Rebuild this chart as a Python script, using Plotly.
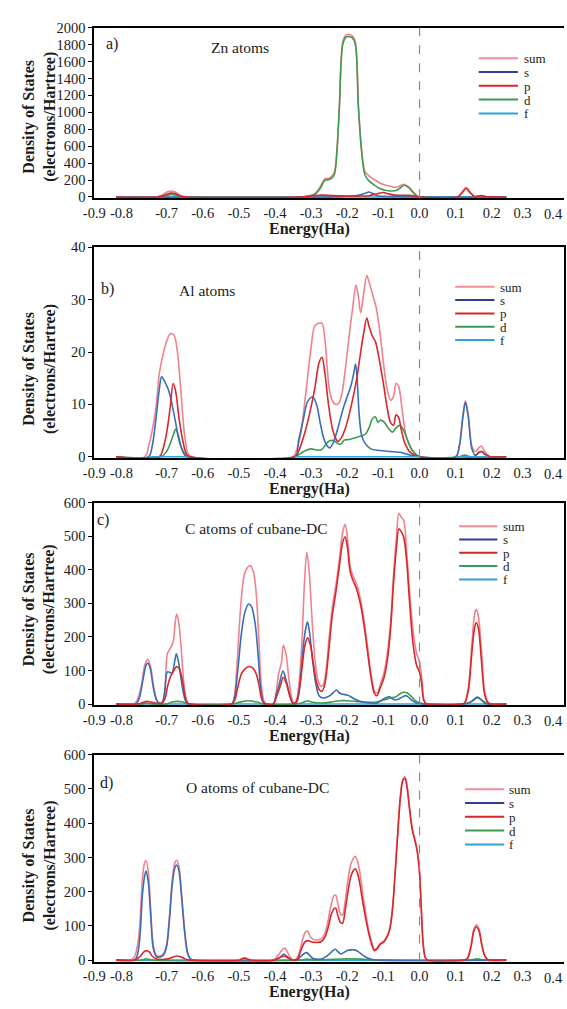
import plotly.graph_objects as go

W, H = 567, 1009

# ---------------- energy axis ----------------
x_tick_vals = [-0.9, -0.8, -0.7, -0.6, -0.5, -0.4, -0.3, -0.2, -0.1, 0.0, 0.1, 0.2, 0.3]
x_tick_text = ["-0.9", "-0.8", "-0.7", "-0.6", "-0.5", "-0.4", "-0.3", "-0.2", "-0.1",
               "0.0", "0.1", "0.2", "0.3"]
# the last label sits at the frame edge, so it is right-aligned to its tick
x_edge_val = 0.4
x_edge_text = "0.4"
# trailing no-break spaces nudge crowded labels inward
x_tick_pad = {"-0.8": 5, "0.3": 3}
FERMI = 0.0

# ---------------- y ticks ----------------
a_yticks = [0, 200, 400, 600, 800, 1000, 1200, 1400, 1600, 1800, 2000]
b_yticks = [0, 10, 20, 30, 40]
c_yticks = [0, 100, 200, 300, 400, 500, 600]
d_yticks = [0, 100, 200, 300, 400, 500, 600]

# ---------------- a) Zn atoms : (energy, DOS) ----------------
a_sum = [(-0.84, 0), (-0.73, 0), (-0.713, 20), (-0.7, 55), (-0.688, 70), (-0.675, 55), (-0.66, 12), (-0.645, 0),
         (-0.33, 0), (-0.31, 10), (-0.29, 40), (-0.275, 120), (-0.262, 215), (-0.25, 225), (-0.242, 250),
         (-0.235, 300), (-0.228, 600), (-0.222, 1070), (-0.212, 1840), (-0.203, 1915), (-0.195, 1920),
         (-0.186, 1905), (-0.178, 1840), (-0.169, 1070), (-0.16, 550), (-0.151, 300), (-0.14, 250),
         (-0.125, 205), (-0.11, 165), (-0.095, 140), (-0.08, 125), (-0.065, 115), (-0.052, 135),
         (-0.042, 148), (-0.03, 120), (-0.018, 60), (-0.008, 15), (0.0, 0),
         (0.105, 0), (0.118, 60), (0.129, 115), (0.14, 60), (0.152, 8), (0.162, 10), (0.172, 17),
         (0.185, 3), (0.2, 0), (0.24, 0)]
a_s = [(-0.84, 0), (-0.25, 0), (-0.2, 8), (-0.17, 20), (-0.15, 45), (-0.14, 58), (-0.13, 40), (-0.115, 12),
       (-0.09, 6), (-0.06, 3), (0.0, 0), (0.24, 0)]
a_p = [(-0.84, 0), (-0.725, 0), (-0.705, 20), (-0.69, 45), (-0.675, 38), (-0.66, 8), (-0.645, 0),
       (-0.33, 0), (-0.3, 12), (-0.27, 22), (-0.24, 15), (-0.2, 10), (-0.17, 10), (-0.14, 15), (-0.12, 35),
       (-0.1, 52), (-0.085, 35), (-0.07, 22), (-0.05, 20), (-0.03, 18), (-0.01, 8), (0.0, 0),
       (0.105, 0), (0.118, 50), (0.129, 100), (0.14, 50), (0.152, 5), (0.162, 10), (0.172, 15),
       (0.185, 3), (0.2, 0), (0.24, 0)]
a_d = [(-0.84, 0), (-0.715, 0), (-0.7, 18), (-0.687, 30), (-0.675, 20), (-0.66, 3), (-0.645, 0),
       (-0.33, 0), (-0.31, 5), (-0.29, 30), (-0.275, 100), (-0.262, 195), (-0.25, 205), (-0.242, 225),
       (-0.235, 275), (-0.228, 570), (-0.222, 1040), (-0.212, 1810), (-0.203, 1890), (-0.195, 1895),
       (-0.186, 1880), (-0.178, 1810), (-0.169, 1040), (-0.16, 520), (-0.151, 260), (-0.14, 190),
       (-0.125, 140), (-0.11, 100), (-0.095, 80), (-0.08, 70), (-0.065, 75), (-0.052, 112), (-0.042, 138),
       (-0.03, 110), (-0.018, 55), (-0.008, 12), (0.0, 0), (0.24, 0)]
a_f = [(-0.84, 0), (0.24, 0)]

# ---------------- b) Al atoms ----------------
b_sum = [(-0.84, 0), (-0.76, 0), (-0.75, 2), (-0.74, 5), (-0.73, 9), (-0.72, 16), (-0.71, 19.5), (-0.70, 22),
         (-0.69, 23.5), (-0.68, 23.3), (-0.67, 20), (-0.66, 12), (-0.65, 4), (-0.64, 0.5), (-0.63, 0),
         (-0.35, 0), (-0.342, 1), (-0.33, 4), (-0.315, 12), (-0.30, 21), (-0.29, 25), (-0.28, 25.5),
         (-0.27, 25.5), (-0.26, 21), (-0.25, 13), (-0.24, 10.5), (-0.232, 10), (-0.224, 10.2), (-0.215, 12),
         (-0.205, 17), (-0.195, 23), (-0.185, 28.5), (-0.176, 32.8), (-0.17, 31), (-0.163, 27.5),
         (-0.155, 31), (-0.146, 34.6), (-0.14, 33.5), (-0.13, 31), (-0.12, 28.5), (-0.11, 24), (-0.10, 18),
         (-0.09, 13), (-0.08, 10.8), (-0.072, 11.5), (-0.065, 14), (-0.058, 13.5), (-0.05, 10), (-0.04, 5),
         (-0.03, 2.5), (-0.015, 0.8), (0.0, 0),
         (0.1, 0), (0.11, 2), (0.12, 8), (0.127, 10.7), (0.135, 8), (0.145, 2), (0.155, 1), (0.165, 1.8),
         (0.172, 2), (0.18, 1), (0.195, 0), (0.24, 0)]
b_s = [(-0.84, 0), (-0.75, 0), (-0.74, 2), (-0.73, 7), (-0.72, 13), (-0.714, 15.3), (-0.705, 14.3),
       (-0.695, 12.8), (-0.685, 10), (-0.675, 6.5), (-0.665, 3), (-0.655, 1), (-0.645, 0),
       (-0.345, 0), (-0.335, 3), (-0.322, 7), (-0.31, 10.5), (-0.296, 11.4), (-0.285, 10), (-0.275, 6.5),
       (-0.265, 3.5), (-0.255, 2), (-0.248, 1.7), (-0.24, 2.5), (-0.23, 4.5), (-0.22, 7), (-0.21, 9.5),
       (-0.2, 11.5), (-0.19, 13.5), (-0.182, 16), (-0.177, 17.7), (-0.172, 14), (-0.167, 8), (-0.16, 4),
       (-0.15, 2.5), (-0.135, 1.5), (-0.11, 1.2), (-0.08, 1.0), (-0.05, 0.8), (-0.03, 0.4), (0.0, 0),
       (0.1, 0), (0.11, 2), (0.12, 7.5), (0.127, 10.4), (0.135, 7.5), (0.145, 1.5), (0.155, 0.3),
       (0.165, 0.8), (0.172, 1.0), (0.18, 0.5), (0.195, 0), (0.24, 0)]
b_p = [(-0.84, 0), (-0.72, 0), (-0.71, 1.5), (-0.70, 4.5), (-0.69, 9.5), (-0.682, 14), (-0.675, 12.5),
       (-0.665, 7), (-0.655, 3), (-0.645, 0.5), (-0.635, 0),
       (-0.345, 0), (-0.335, 1), (-0.32, 4), (-0.305, 8), (-0.29, 13), (-0.278, 18), (-0.27, 19),
       (-0.262, 16), (-0.252, 10), (-0.24, 5), (-0.23, 3.2), (-0.226, 2.9), (-0.215, 3.8), (-0.205, 5.5),
       (-0.195, 8), (-0.185, 11), (-0.175, 14.5), (-0.165, 19), (-0.155, 23.5), (-0.146, 26.5),
       (-0.14, 25), (-0.13, 23), (-0.122, 22), (-0.11, 18), (-0.10, 14), (-0.09, 9.5), (-0.08, 6.5),
       (-0.072, 6), (-0.065, 8), (-0.058, 7.5), (-0.05, 5), (-0.04, 2.5), (-0.025, 0.8), (0.0, 0),
       (0.15, 0), (0.165, 0.9), (0.172, 1.0), (0.18, 0.5), (0.195, 0), (0.24, 0)]
b_d = [(-0.84, 0), (-0.715, 0), (-0.70, 1), (-0.69, 2.5), (-0.68, 4.5), (-0.675, 5.3), (-0.668, 4.2),
       (-0.66, 2), (-0.65, 0.5), (-0.64, 0),
       (-0.345, 0), (-0.33, 0.6), (-0.315, 1.2), (-0.3, 1.5), (-0.285, 1.3), (-0.272, 1.3), (-0.26, 2.3),
       (-0.25, 3), (-0.238, 3.1), (-0.228, 2.6), (-0.218, 2.4), (-0.208, 3.2), (-0.195, 3.3), (-0.18, 3.6),
       (-0.165, 3.9), (-0.15, 4.3), (-0.14, 5.5), (-0.13, 7.3), (-0.122, 7.6), (-0.115, 6.6), (-0.108, 7),
       (-0.098, 6.6), (-0.088, 5.6), (-0.075, 4.7), (-0.065, 5.5), (-0.055, 6), (-0.045, 5.2),
       (-0.035, 3.5), (-0.02, 1.2), (0.0, 0),
       (0.11, 0), (0.125, 0.3), (0.14, 0), (0.24, 0)]
b_f = [(-0.745, 0), (-0.64, 0), (None, None), (-0.345, 0), (0.0, 0), (None, None), (0.1, 0), (0.19, 0)]

# ---------------- c) C atoms of cubane-DC ----------------
c_sum = [(-0.84, 0), (-0.79, 0), (-0.78, 15), (-0.77, 55), (-0.76, 118), (-0.752, 133), (-0.745, 115),
         (-0.737, 60), (-0.728, 15), (-0.72, 4), (-0.712, 5), (-0.705, 40), (-0.698, 150), (-0.69, 165),
         (-0.682, 185), (-0.676, 245), (-0.672, 268), (-0.666, 240), (-0.66, 170), (-0.652, 60),
         (-0.645, 10), (-0.638, 0),
         (-0.52, 0), (-0.513, 20), (-0.505, 120), (-0.495, 290), (-0.485, 385), (-0.475, 408),
         (-0.468, 412), (-0.46, 395), (-0.452, 330), (-0.445, 200), (-0.438, 60), (-0.43, 8), (-0.422, 0),
         (-0.405, 0), (-0.397, 35), (-0.39, 90), (-0.382, 125), (-0.377, 175), (-0.37, 150), (-0.362, 80),
         (-0.355, 25), (-0.348, 3),
         (-0.34, 15), (-0.332, 80), (-0.325, 200), (-0.318, 370), (-0.312, 452), (-0.305, 390),
         (-0.298, 260), (-0.29, 140), (-0.282, 75), (-0.275, 55), (-0.268, 55), (-0.26, 90), (-0.25, 200),
         (-0.24, 300), (-0.232, 350), (-0.222, 430), (-0.213, 510), (-0.206, 535), (-0.2, 500),
         (-0.192, 410), (-0.185, 385), (-0.175, 360), (-0.165, 320), (-0.155, 260), (-0.145, 180),
         (-0.135, 95), (-0.125, 40), (-0.118, 32), (-0.108, 60), (-0.098, 95), (-0.088, 160),
         (-0.08, 245), (-0.072, 385), (-0.064, 495), (-0.057, 568), (-0.05, 555), (-0.044, 548),
         (-0.036, 460), (-0.028, 340), (-0.018, 220), (-0.008, 150), (0.0, 125), (0.006, 80),
         (0.012, 15), (0.02, 0),
         (0.115, 0), (0.125, 5), (0.135, 50), (0.145, 180), (0.152, 265), (0.157, 282), (0.163, 260),
         (0.172, 150), (0.18, 40), (0.19, 5), (0.2, 0), (0.24, 0)]
c_s = [(-0.84, 0), (-0.785, 0), (-0.775, 20), (-0.765, 75), (-0.757, 115), (-0.752, 122), (-0.745, 105),
       (-0.737, 50), (-0.728, 12), (-0.72, 2), (-0.712, 5), (-0.705, 40), (-0.698, 96), (-0.69, 94),
       (-0.685, 92), (-0.678, 125), (-0.673, 150), (-0.667, 125), (-0.66, 75), (-0.652, 25),
       (-0.645, 3), (-0.638, 0),
       (-0.52, 0), (-0.512, 20), (-0.503, 100), (-0.493, 210), (-0.483, 275), (-0.473, 298),
       (-0.465, 290), (-0.455, 240), (-0.447, 150), (-0.44, 50), (-0.432, 5), (-0.424, 0),
       (-0.405, 0), (-0.396, 30), (-0.388, 60), (-0.378, 98), (-0.37, 75), (-0.36, 30), (-0.352, 5),
       (-0.345, 0),
       (-0.338, 10), (-0.33, 70), (-0.322, 170), (-0.315, 225), (-0.31, 245), (-0.304, 210),
       (-0.296, 130), (-0.287, 60), (-0.278, 25), (-0.268, 18), (-0.258, 20), (-0.248, 25), (-0.238, 35),
       (-0.23, 42), (-0.222, 33), (-0.212, 29), (-0.2, 27), (-0.19, 22), (-0.18, 15), (-0.165, 8),
       (-0.15, 5), (-0.13, 3), (-0.12, 2), (-0.11, 8), (-0.1, 15), (-0.09, 20), (-0.082, 22),
       (-0.075, 16), (-0.066, 12), (-0.056, 16), (-0.046, 22), (-0.038, 25), (-0.03, 20), (-0.02, 10),
       (-0.01, 4), (0.0, 2), (0.02, 0),
       (0.125, 0), (0.14, 5), (0.152, 15), (0.16, 20), (0.168, 15), (0.18, 3), (0.19, 0), (0.24, 0)]
c_p = [(-0.84, 0), (-0.78, 0), (-0.77, 3), (-0.755, 8), (-0.745, 6), (-0.73, 3), (-0.715, 2), (-0.705, 15),
       (-0.698, 50), (-0.69, 80), (-0.68, 100), (-0.672, 112), (-0.665, 105), (-0.658, 80), (-0.65, 30),
       (-0.643, 5), (-0.635, 0),
       (-0.52, 0), (-0.512, 10), (-0.503, 50), (-0.493, 90), (-0.483, 105), (-0.472, 112), (-0.462, 108),
       (-0.452, 90), (-0.444, 55), (-0.437, 15), (-0.43, 2), (-0.422, 0),
       (-0.405, 0), (-0.395, 25), (-0.385, 55), (-0.377, 80), (-0.368, 60), (-0.358, 20), (-0.35, 2),
       (-0.342, 5), (-0.333, 40), (-0.325, 110), (-0.318, 170), (-0.31, 197), (-0.302, 175),
       (-0.293, 115), (-0.285, 65), (-0.277, 42), (-0.27, 38), (-0.262, 60), (-0.252, 150), (-0.242, 260),
       (-0.232, 330), (-0.222, 410), (-0.213, 480), (-0.206, 498), (-0.2, 470), (-0.192, 395),
       (-0.185, 370), (-0.175, 345), (-0.165, 305), (-0.155, 245), (-0.145, 165), (-0.135, 85),
       (-0.125, 32), (-0.118, 25), (-0.108, 50), (-0.098, 80), (-0.088, 140), (-0.08, 225),
       (-0.072, 360), (-0.064, 465), (-0.057, 522), (-0.05, 512), (-0.044, 498), (-0.036, 430),
       (-0.028, 310), (-0.018, 180), (-0.008, 115), (0.0, 95), (0.006, 60), (0.012, 10), (0.02, 0),
       (0.115, 0), (0.125, 3), (0.135, 40), (0.145, 155), (0.152, 225), (0.157, 243), (0.163, 225),
       (0.172, 120), (0.18, 30), (0.19, 3), (0.2, 0), (0.24, 0)]
c_d = [(-0.84, 0), (-0.77, 0), (-0.755, 3), (-0.74, 0), (-0.7, 0), (-0.685, 6), (-0.67, 8), (-0.655, 6),
       (-0.64, 0), (-0.52, 0), (-0.5, 5), (-0.475, 10), (-0.45, 6), (-0.43, 0),
       (-0.34, 0), (-0.32, 6), (-0.31, 10), (-0.3, 6), (-0.27, 3), (-0.24, 7), (-0.22, 10), (-0.2, 10),
       (-0.17, 7), (-0.14, 5), (-0.12, 6), (-0.1, 12), (-0.08, 18), (-0.065, 22), (-0.055, 30),
       (-0.045, 35), (-0.035, 34), (-0.025, 25), (-0.012, 10), (0.0, 3), (0.02, 0),
       (0.12, 0), (0.145, 8), (0.16, 20), (0.175, 10), (0.19, 0), (0.24, 0)]
c_f = [(-0.84, 0), (0.24, 0)]

# ---------------- d) O atoms of cubane-DC ----------------
d_sum = [(-0.84, 0), (-0.80, 0), (-0.788, 12), (-0.777, 70), (-0.768, 220), (-0.762, 280), (-0.757, 291),
         (-0.751, 260), (-0.744, 150), (-0.737, 45), (-0.728, 14), (-0.718, 12), (-0.708, 20), (-0.7, 45),
         (-0.692, 130), (-0.684, 240), (-0.677, 285), (-0.672, 292), (-0.666, 275), (-0.659, 200),
         (-0.65, 90), (-0.642, 25), (-0.633, 3), (-0.625, 0),
         (-0.5, 0), (-0.492, 4), (-0.485, 7), (-0.476, 4), (-0.465, 0),
         (-0.405, 0), (-0.395, 10), (-0.386, 22), (-0.378, 33), (-0.372, 35), (-0.365, 22), (-0.357, 8),
         (-0.35, 0),
         (-0.343, 2), (-0.335, 15), (-0.326, 50), (-0.317, 80), (-0.31, 85), (-0.302, 68), (-0.293, 60),
         (-0.283, 59), (-0.272, 62), (-0.263, 75), (-0.254, 110), (-0.245, 160), (-0.237, 188),
         (-0.232, 190), (-0.226, 165), (-0.219, 135), (-0.213, 132), (-0.206, 170), (-0.198, 235),
         (-0.19, 280), (-0.183, 298), (-0.178, 303), (-0.172, 290), (-0.165, 255), (-0.158, 200),
         (-0.15, 145), (-0.142, 95), (-0.133, 55), (-0.125, 32), (-0.118, 35), (-0.11, 48), (-0.1, 55),
         (-0.09, 70), (-0.082, 95), (-0.075, 150), (-0.068, 250), (-0.06, 380), (-0.053, 480),
         (-0.046, 530), (-0.04, 536), (-0.034, 505), (-0.027, 440), (-0.02, 385), (-0.013, 355),
         (-0.006, 320), (0.0, 260), (0.005, 150), (0.01, 50), (0.016, 8), (0.022, 0),
         (0.12, 0), (0.132, 5), (0.142, 40), (0.15, 88), (0.157, 103), (0.164, 92), (0.172, 50),
         (0.18, 15), (0.188, 2), (0.195, 0), (0.24, 0)]
d_s = [(-0.84, 0), (-0.79, 0), (-0.783, 8), (-0.775, 55), (-0.767, 190), (-0.761, 245), (-0.757, 260),
       (-0.751, 230), (-0.744, 130), (-0.737, 35), (-0.728, 10), (-0.718, 9), (-0.708, 16), (-0.7, 40),
       (-0.692, 120), (-0.684, 225), (-0.677, 270), (-0.672, 278), (-0.666, 262), (-0.659, 190),
       (-0.65, 80), (-0.642, 20), (-0.633, 2), (-0.625, 0),
       (-0.402, 0), (-0.392, 5), (-0.382, 12), (-0.376, 18), (-0.366, 10), (-0.356, 2), (-0.348, 0),
       (-0.338, 2), (-0.328, 12), (-0.318, 20), (-0.312, 22), (-0.304, 14), (-0.295, 5), (-0.285, 3),
       (-0.272, 3), (-0.262, 8), (-0.25, 18), (-0.24, 28), (-0.233, 32), (-0.226, 25), (-0.218, 18),
       (-0.21, 22), (-0.2, 28), (-0.19, 30), (-0.18, 30), (-0.17, 25), (-0.16, 17), (-0.15, 10),
       (-0.14, 5), (-0.13, 2), (-0.115, 0), (0.24, 0)]
d_p = [(-0.84, 0), (-0.79, 0), (-0.78, 5), (-0.77, 15), (-0.762, 25), (-0.756, 28), (-0.748, 24),
       (-0.74, 12), (-0.73, 4), (-0.715, 2), (-0.7, 3), (-0.69, 6), (-0.68, 10), (-0.672, 12),
       (-0.664, 11), (-0.655, 7), (-0.645, 2), (-0.635, 0),
       (-0.5, 0), (-0.49, 4), (-0.484, 6), (-0.476, 3), (-0.466, 0),
       (-0.402, 0), (-0.392, 5), (-0.382, 10), (-0.374, 12), (-0.366, 8), (-0.356, 2), (-0.348, 0),
       (-0.338, 3), (-0.328, 30), (-0.318, 52), (-0.31, 57), (-0.3, 54), (-0.29, 52), (-0.28, 52),
       (-0.27, 56), (-0.262, 67), (-0.253, 95), (-0.244, 135), (-0.237, 150), (-0.232, 152),
       (-0.226, 130), (-0.219, 110), (-0.213, 108), (-0.206, 145), (-0.198, 200), (-0.19, 245),
       (-0.183, 262), (-0.178, 267), (-0.172, 255), (-0.165, 222), (-0.158, 175), (-0.15, 128),
       (-0.142, 85), (-0.133, 48), (-0.125, 28), (-0.118, 32), (-0.11, 45), (-0.1, 52), (-0.09, 67),
       (-0.082, 92), (-0.075, 146), (-0.068, 245), (-0.06, 374), (-0.053, 474), (-0.046, 524),
       (-0.04, 530), (-0.034, 500), (-0.027, 435), (-0.02, 380), (-0.013, 350), (-0.006, 315),
       (0.0, 255), (0.005, 146), (0.01, 47), (0.016, 7), (0.022, 0),
       (0.12, 0), (0.132, 4), (0.142, 37), (0.15, 84), (0.157, 97), (0.164, 88), (0.172, 46),
       (0.18, 13), (0.188, 2), (0.195, 0), (0.24, 0)]
d_d = [(-0.84, 0), (-0.77, 0), (-0.757, 4), (-0.74, 0), (-0.33, 0), (-0.31, 3), (-0.29, 0), (-0.25, 2),
       (-0.2, 4), (-0.16, 3), (-0.12, 0), (0.14, 0), (0.16, 4), (0.18, 0), (0.24, 0)]
d_f = [(-0.84, 0), (0.24, 0)]

SERIES_NAMES = ["sum", "s", "p", "d", "f"]

# ---------------- styling ----------------
TRACE_COLORS = {"sum": "#F0828C", "s": "#3A6FB6", "p": "#D7282D", "d": "#3E9C50", "f": "#2CA6DC"}
LEGEND_COLORS = {"sum": "#F28C96", "s": "#2E3F95", "p": "#D7262B", "d": "#3A9A55", "f": "#2BA3DA"}
SERIF = "Liberation Serif, Times New Roman, serif"
INK = "#1c1c1c"
TICK_FONT = dict(family=SERIF, size=14.5, color=INK)

panels = [
    dict(tag="a)", title="Zn atoms", data=dict(sum=a_sum, s=a_s, p=a_p, d=a_d, f=a_f),
         yticks=a_yticks, top=20, bottom=193, right_border=False,
         order=["f", "sum", "d", "s", "p"],
         tag_xy=(103, 37), title_xy=(234, 40), ytitle_y=110,
         legend=dict(x0=477, x1=517, xt=521, y0=51, dy=14)),
    dict(tag="b)", title="Al atoms", data=dict(sum=b_sum, s=b_s, p=b_p, d=b_d, f=b_f),
         yticks=b_yticks, top=243, bottom=457, right_border=True,
         order=["sum", "d", "s", "p", "f"],
         tag_xy=(98, 285), title_xy=(200, 287), ytitle_y=366,
         legend=dict(x0=453, x1=493, xt=497, y0=283, dy=13.5)),
    dict(tag="c)", title="C atoms of cubane-DC", data=dict(sum=c_sum, s=c_s, p=c_p, d=c_d, f=c_f),
         yticks=c_yticks, top=502, bottom=708, right_border=True,
         order=["f", "sum", "d", "s", "p"],
         tag_xy=(94, 520), title_xy=(250, 528), ytitle_y=610,
         legend=dict(x0=457, x1=496, xt=500, y0=526, dy=13.5)),
    dict(tag="d)", title="O atoms of cubane-DC", data=dict(sum=d_sum, s=d_s, p=d_p, d=d_d, f=d_f),
         yticks=d_yticks, top=758, bottom=968, right_border=False,
         order=["f", "sum", "d", "s", "p"],
         tag_xy=(97, 787), title_xy=(251, 791), ytitle_y=870,
         legend=dict(x0=463, x1=503, xt=506, y0=793, dy=14)),
]

X_LEFT, X_RIGHT = 85, 564
X_RANGE = [-0.9, 0.4]


def px(x):
    return x / W


def py(y):
    return 1 - y / H


def unzip(pairs):
    return [e for e, _ in pairs], [v for _, v in pairs]


tick_text = [t + "\u00a0" * x_tick_pad.get(t, 0) for t in x_tick_text]

fig = go.Figure()
annotations = []
shapes = []
layout_axes = {}

for i, pn in enumerate(panels, start=1):
    xname = "x" if i == 1 else f"x{i}"
    yname = "y" if i == 1 else f"y{i}"
    xkey = "xaxis" if i == 1 else f"xaxis{i}"
    ykey = "yaxis" if i == 1 else f"yaxis{i}"

    for key in pn["order"]:
        e, v = unzip(pn["data"][key])
        fig.add_trace(go.Scatter(
            x=e, y=v, mode="lines", name=key, showlegend=False, hoverinfo="skip",
            line=dict(color=TRACE_COLORS[key], width=1.6, shape="spline", smoothing=0.9),
            xaxis=xname, yaxis=yname))

    ymax = pn["yticks"][-1]
    layout_axes[xkey] = dict(
        domain=[px(X_LEFT), px(X_RIGHT)], anchor=yname, range=X_RANGE,
        tickmode="array", tickvals=x_tick_vals, ticktext=tick_text, tickangle=0,
        ticklabeloverflow="allow",
        showline=True, linecolor="black", linewidth=2, mirror=True,
        ticks="", showgrid=False, zeroline=False, tickfont=TICK_FONT)
    layout_axes[ykey] = dict(
        domain=[py(pn["bottom"]), py(pn["top"])], anchor=xname,
        range=[-ymax * 0.007, ymax],
        tickmode="array", tickvals=pn["yticks"],
        ticks="outside", ticklen=4, tickwidth=1, tickcolor="black",
        showline=True, linecolor="black", linewidth=2,
        mirror=True if pn["right_border"] else False,
        showgrid=False, zeroline=False, tickfont=TICK_FONT)

    # edge tick label, right-aligned on its tick so it stays inside the frame width
    annotations.append(dict(text=x_edge_text, x=x_edge_val, xref=xname,
                            y=0, yref=f"{yname} domain", yshift=-7,
                            xanchor="right", yanchor="top", showarrow=False,
                            borderpad=0, font=TICK_FONT))

    # Fermi level marker
    shapes.append(dict(type="line", xref=xname, yref=f"{yname} domain",
                       x0=FERMI, x1=FERMI, y0=0, y1=1,
                       line=dict(color="#8a8a8a", width=1.2, dash="dash")))

    # panel tag and atom label
    annotations.append(dict(text=pn["tag"], x=px(pn["tag_xy"][0]), y=py(pn["tag_xy"][1]),
                            xref="paper", yref="paper", showarrow=False,
                            xanchor="center", yanchor="middle",
                            font=dict(family=SERIF, size=16, color=INK)))
    annotations.append(dict(text=pn["title"], x=px(pn["title_xy"][0]), y=py(pn["title_xy"][1]),
                            xref="paper", yref="paper", showarrow=False,
                            xanchor="center", yanchor="middle",
                            font=dict(family=SERIF, size=15.5, color=INK)))

    # axis titles
    annotations.append(dict(text="<b>Density of States<br>(electrons/Hartree)</b>",
                            x=px(29), y=py(pn["ytitle_y"]), xref="paper", yref="paper",
                            showarrow=False, textangle=-90, xanchor="center", yanchor="middle",
                            font=dict(family=SERIF, size=16, color=INK)))
    annotations.append(dict(text="<b>Energy(Ha)</b>", x=px(304), y=py(pn["bottom"] + 31),
                            xref="paper", yref="paper", showarrow=False,
                            xanchor="center", yanchor="middle",
                            font=dict(family=SERIF, size=16, color=INK)))

    # key: short line samples with labels
    lg = pn["legend"]
    for k, name in enumerate(SERIES_NAMES):
        yy = lg["y0"] + k * lg["dy"]
        shapes.append(dict(type="line", xref="paper", yref="paper",
                           x0=px(lg["x0"]), x1=px(lg["x1"]), y0=py(yy), y1=py(yy),
                           line=dict(color=LEGEND_COLORS[name], width=2)))
        annotations.append(dict(text=name, x=px(lg["xt"]), y=py(yy + 0.5),
                                xref="paper", yref="paper", showarrow=False,
                                xanchor="left", yanchor="middle",
                                font=dict(family=SERIF, size=13, color=INK)))

fig.update_layout(
    width=W, height=H,
    margin=dict(l=0, r=0, t=0, b=0),
    paper_bgcolor="white", plot_bgcolor="white",
    showlegend=False,
    annotations=annotations, shapes=shapes,
    **layout_axes)

fig.write_html("out.html")
